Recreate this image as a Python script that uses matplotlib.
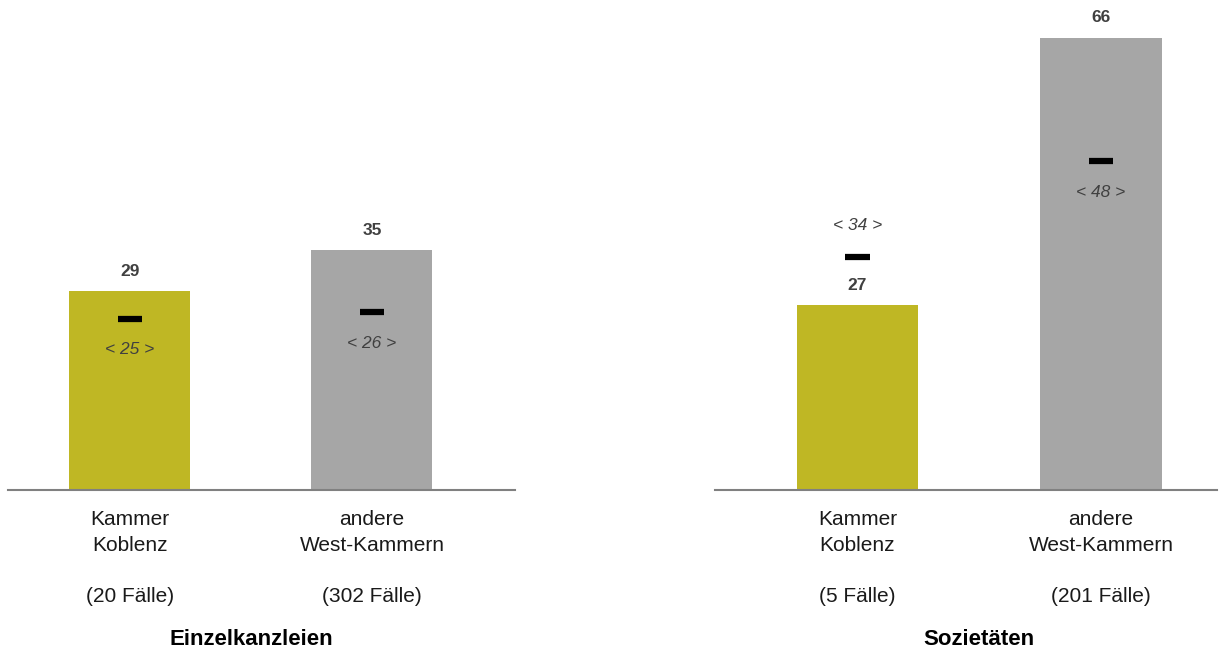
import numpy as np
import matplotlib.pyplot as plt
from matplotlib.transforms import blended_transform_factory

plt.rcParams['font.family'] = ['Liberation Sans', 'DejaVu Sans']

# data
groups = ['Einzelkanzleien', 'Sozietäten']
categories = ['Kammer\nKoblenz', 'andere\nWest-Kammern']
cases = [['(20 Fälle)', '(302 Fälle)'], ['(5 Fälle)', '(201 Fälle)']]
means = [[29, 35], [27, 66]]
medians = [[25, 26], [34, 48]]

colors = ['#BFB724', '#A6A6A6']
txt = '#404040'

fig = plt.figure(figsize=(12.19, 6.49), dpi=100)
boxes = [[8/1219, 0.245, 507/1219, 0.739], [715/1219, 0.245, 502/1219, 0.739]]
xlims = [(-0.504, 1.591), (-0.585, 1.476)]

for g in range(2):
    ax = fig.add_axes(boxes[g])
    x = np.arange(2)
    ax.bar(x, means[g], width=0.5, color=colors, zorder=2)
    ax.hlines(medians[g], x - 0.05, x + 0.05, color='black', lw=4.5, zorder=3)
    for i in range(2):
        m = means[g][i]
        md = medians[g][i]
        ax.annotate(str(m), (x[i], m), xytext=(0, 14.4), textcoords='offset points',
                    ha='center', va='center', fontsize=12.5, fontweight='bold', color=txt)
        off = -22.5 if md < m else 22.5
        ax.annotate('< %d >' % md, (x[i], md), xytext=(0, off), textcoords='offset points',
                    ha='center', va='center', fontsize=12.5, fontstyle='italic', color=txt)
    ax.set_xlim(*xlims[g])
    ax.set_ylim(0, 70)
    ax.set_xticks(x)
    ax.set_xticklabels([categories[i] + '\n\n' + cases[g][i] for i in range(2)],
                       fontsize=15, color='#1a1a1a', linespacing=1.45)
    ax.tick_params(axis='x', length=0, pad=14.5)
    ax.set_yticks([])
    for s in ['top', 'left', 'right']:
        ax.spines[s].set_visible(False)
    ax.spines['bottom'].set_color('#808080')
    ax.spines['bottom'].set_linewidth(1.5)
    tr = blended_transform_factory(ax.transData, ax.transAxes)
    ax.text(0.5, -0.323, groups[g], transform=tr, ha='center', va='baseline',
            fontsize=16, fontweight='bold', color='black')

fig.savefig('out.png', dpi=100)
